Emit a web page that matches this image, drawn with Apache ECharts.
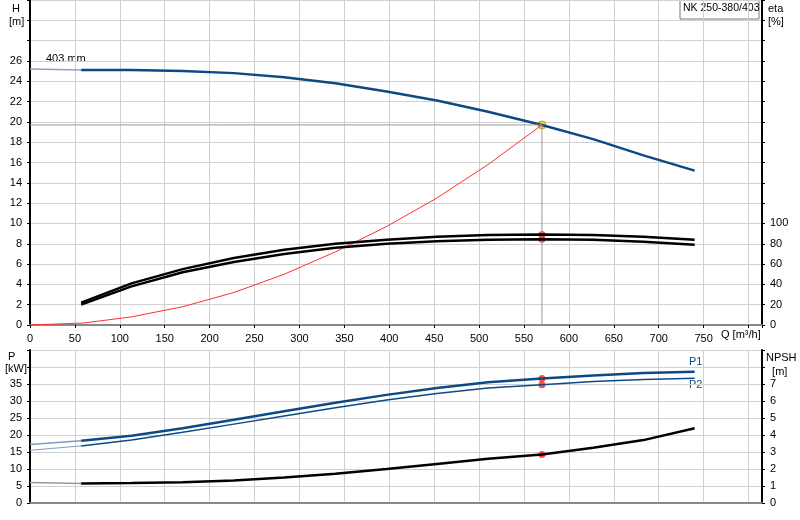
<!DOCTYPE html><html><head><meta charset="utf-8"><script src="https://cdn.jsdelivr.net/npm/echarts@6/dist/echarts.min.js"></script></head><body style="margin:0"><div id="c" style="width:800px;height:520px"></div><script>
const q = [57,113,170,227,283,340,397,453,510,570,627,683,740];
const head = [25.1,25.1,25.0,24.8,24.4,23.8,23.0,22.1,21.0,19.7,18.3,16.7,15.2];
const eta1 = [22,41,55,66,74,80,84,87,88.5,89,88.5,87,84];
const eta2 = [20,38,52,62,70,76,80,82.5,84,84.5,84,82,79];
const sysQ = [0,60,113,170,227,283,340,397,453,510,570];
const sysH = [0,0.2,0.8,1.8,3.2,5,7.2,9.7,12.5,15.8,19.7];
const p1 = [18.3,19.8,22,24.5,27,29.5,31.8,33.8,35.5,36.6,37.5,38.2,38.6];
const p2 = [16.8,18.5,20.8,23.2,25.6,28,30.3,32.2,33.8,34.8,35.7,36.3,36.7];
const npsh = [1.15,1.17,1.22,1.33,1.5,1.72,2.0,2.3,2.6,2.85,3.25,3.7,4.4];
const ext = {head:25.2, p1:17.2, p2:15.5, npsh:1.2};
const dutyQ = 570, dutyIdx = 9;
const pair = (ys)=>q.map((x,i)=>[x,ys[i]]);
const grid = {color:'#d0d0d0'};
const xa = (gi,show)=>({type:'value',gridIndex:gi,min:0,max:815,interval:50,
  axisLine:{show:true,onZero:false,lineStyle:{color:'#888',width:2}},axisTick:{show:show,length:3,lineStyle:{color:'#000'}},
  axisLabel:{show:show,color:'#000',fontSize:11,fontFamily:'Arial',formatter:v=>v>=800?'':v},
  splitLine:{show:true,lineStyle:grid}});
const ch = echarts.init(document.getElementById('c'));
const th = (d,c,w,ax)=>Object.assign({type:'line',data:d,symbol:'none',lineStyle:{color:c,width:w},silent:true},ax);
ch.setOption({animation:false,
 grid:[{left:30,right:38,top:0,height:325},{left:30,right:38,top:350,height:153}],
 xAxis:[xa(0,true),xa(1,false)],
 yAxis:[
  {type:'value',gridIndex:0,min:0,max:32,interval:2,axisLine:{show:true,lineStyle:{color:'#000',width:2}},axisTick:{show:true,length:3,lineStyle:{color:'#000'}},
   axisLabel:{color:'#000',fontSize:11,fontFamily:'Arial',formatter:v=>v>26?'':v},splitLine:{lineStyle:grid}},
  {type:'value',gridIndex:0,position:'right',min:0,max:320,interval:20,axisLine:{show:true,lineStyle:{color:'#000',width:2}},axisTick:{show:true,length:3,lineStyle:{color:'#000'}},
   axisLabel:{color:'#000',fontSize:11,fontFamily:'Arial',formatter:v=>v>100?'':v},splitLine:{show:false}},
  {type:'value',gridIndex:1,min:0,max:45,interval:5,axisLine:{show:true,lineStyle:{color:'#000',width:2}},axisTick:{show:true,length:3,lineStyle:{color:'#000'}},
   axisLabel:{color:'#000',fontSize:11,fontFamily:'Arial',formatter:v=>v>35?'':v},splitLine:{lineStyle:grid}},
  {type:'value',gridIndex:1,position:'right',min:0,max:9,interval:1,axisLine:{show:true,lineStyle:{color:'#000',width:2}},axisTick:{show:true,length:3,lineStyle:{color:'#000'}},
   axisLabel:{color:'#000',fontSize:11,fontFamily:'Arial',formatter:v=>v>7?'':v},splitLine:{show:false}}
 ],
 series:[
  th([[0,ext.head],[q[0],head[0]]],'#8aa4c0',1.5,{}),
  th(pair(head),'#0d4a85',2.5,{}),
  th(sysQ.map((x,i)=>[x,sysH[i]]),'#ff3030',1,{}),
  th([[0,head[dutyIdx]],[dutyQ,head[dutyIdx]],[dutyQ,0]],'#999',1,{}),
  th(pair(eta1),'#000',2.5,{yAxisIndex:1}),
  th(pair(eta2),'#000',2.5,{yAxisIndex:1}),
  th([[0,ext.p1],[q[0],p1[0]]],'#7f9cc0',1.5,{xAxisIndex:1,yAxisIndex:2}),
  th([[0,ext.p2],[q[0],p2[0]]],'#7f9cc0',1,{xAxisIndex:1,yAxisIndex:2}),
  th(pair(p1),'#0d4a85',2.5,{xAxisIndex:1,yAxisIndex:2}),
  th(pair(p2),'#0d4a85',1.5,{xAxisIndex:1,yAxisIndex:2}),
  th([[0,ext.npsh],[q[0],npsh[0]]],'#999',1.5,{xAxisIndex:1,yAxisIndex:3}),
  th(pair(npsh),'#000',2.5,{xAxisIndex:1,yAxisIndex:3}),
  {type:'scatter',data:[[dutyQ,head[dutyIdx]]],symbolSize:8,itemStyle:{color:'#ffc820',borderColor:'#d08000',borderWidth:1}},
  {type:'scatter',yAxisIndex:1,data:[[dutyQ,eta1[dutyIdx]],[dutyQ,eta2[dutyIdx]]],symbolSize:7,itemStyle:{color:'#ff2020'}},
  {type:'scatter',xAxisIndex:1,yAxisIndex:2,data:[[dutyQ,p1[dutyIdx]],[dutyQ,p2[dutyIdx]]],symbolSize:7,itemStyle:{color:'#ff2020'}},
  {type:'scatter',xAxisIndex:1,yAxisIndex:3,data:[[dutyQ,npsh[dutyIdx]]],symbolSize:7,itemStyle:{color:'#ff2020'}}
 ],
 graphic:[
  {type:'text',left:9,top:2,style:{text:' H\n[m]',fill:'#000',font:'11px Arial',lineHeight:13}},
  {type:'text',left:768,top:2,style:{text:'eta\n[%]',fill:'#000',font:'11px Arial',lineHeight:13}},
  {type:'text',left:46,top:53,style:{text:'403 mm',fill:'#000',font:'11px Arial'}},
  {type:'rect',shape:{x:680,y:0,width:79,height:19},style:{fill:'#fff',stroke:'#777',lineWidth:1}},
  {type:'text',left:683,top:3,style:{text:'NK 250-380/403',fill:'#000',font:'10.5px Arial'}},
  {type:'text',left:721,top:329,style:{text:'Q [m³/h]',fill:'#000',font:'11px Arial'}},
  {type:'text',left:5,top:351,style:{text:' P\n[kW]',fill:'#000',font:'11px Arial',lineHeight:12}},
  {type:'text',left:766,top:351,style:{text:'NPSH\n  [m]',fill:'#000',font:'11px Arial',lineHeight:14}},
  {type:'text',left:689,top:356,style:{text:'P1',fill:'#0d4a85',font:'11px Arial'}},
  {type:'text',left:689,top:379,style:{text:'P2',fill:'#0d4a85',font:'11px Arial'}}
 ]
});
</script></body></html>
